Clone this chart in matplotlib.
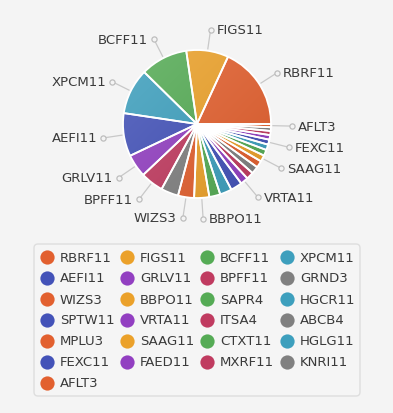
import numpy as np
import matplotlib.pyplot as plt
from matplotlib.colors import LinearSegmentedColormap, to_rgb
from matplotlib.patches import FancyBboxPatch

# share of each fund in the portfolio (%)
tickers = ["RBRF11", "FIGS11", "BCFF11", "XPCM11", "AEFI11", "GRLV11", "BPFF11", "GRND3",
           "WIZS3", "BBPO11", "SAPR4", "HGCR11", "SPTW11", "VRTA11", "ITSA4", "ABCB4",
           "MPLU3", "SAAG11", "CTXT11", "HGLG11", "FEXC11", "FAED11", "MXRF11", "KNRI11",
           "AFLT3"]
shares = [18.1, 9.2, 10.3, 10.0, 9.4, 5.0, 5.0, 3.8,
          3.5, 3.3, 2.4, 2.6, 2.5, 1.7, 1.6, 1.6,
          1.5, 1.4, 1.3, 1.2, 1.1, 1.0, 0.9, 0.8,
          0.7]
# labels the chart actually prints next to the pie
shown = ["RBRF11", "FIGS11", "BCFF11", "XPCM11", "AEFI11", "GRLV11", "BPFF11",
         "WIZS3", "BBPO11", "VRTA11", "SAAG11", "FEXC11", "AFLT3"]

palette = ["#e2602f", "#eba12a", "#55ab55", "#3d9fbd", "#4352b8", "#923fc1", "#c03b60", "#808080"]
colors = [palette[i % len(palette)] for i in range(len(tickers))]

bg = "#f4f4f4"
W, H = 393, 414
fig = plt.figure(figsize=(W / 100, H / 100), dpi=100, facecolor=bg)
ax = fig.add_axes([0, 0, 1, 1])
ax.set_facecolor(bg)

cx, cy, R = 197, H - 125, 74
wedges, _ = ax.pie(shares, center=(cx, cy), radius=R, startangle=0, counterclock=True,
                   colors=colors, wedgeprops=dict(edgecolor="white", linewidth=1.3))

# soft gradient, lighter towards the upper left
gx, gy = np.meshgrid(np.linspace(0, 1, 200), np.linspace(0, 1, 200))
grad = (gx + (1 - gy)) / 2
for w, c in zip(wedges, colors):
    base = np.array(to_rgb(c))
    light = base + (1 - base) * 0.15
    dark = base * 0.93
    cmap = LinearSegmentedColormap.from_list("g", [light, dark])
    im = ax.imshow(grad, extent=[cx - R, cx + R, cy - R, cy + R], origin="lower",
                   cmap=cmap, interpolation="bilinear", zorder=0.5)
    im.set_clip_path(w)
    w.set_facecolor("none")

# leader lines and labels
total = sum(shares)
cum = 0
for name, v in zip(tickers, shares):
    mid = np.deg2rad(360 * (cum + v / 2) / total)
    cum += v
    if name not in shown:
        continue
    ca, sa = np.cos(mid), np.sin(mid)
    x0, y0 = cx + (R + 2) * ca, cy + (R + 2) * sa
    x1, y1 = cx + 95 * ca, cy + 95 * sa
    ax.plot([x0, x1 - 2.5 * ca], [y0, y1 - 2.5 * sa], color="#c8c8c8", lw=0.9, zorder=2)
    ax.scatter([x1], [y1], s=14, facecolor=bg, edgecolor="#bdbdbd", linewidth=0.9, zorder=3)
    if ca >= 0:
        ax.text(x1 + 6, y1, name, ha="left", va="center", fontsize=9.5, color="#3a3a3a")
    else:
        ax.text(x1 - 6, y1, name, ha="right", va="center", fontsize=9.5, color="#3a3a3a")

# legend box
box = FancyBboxPatch((34, H - 397), 326, 152, boxstyle="round,pad=0,rounding_size=4",
                     facecolor="#f5f5f5", edgecolor="#dedede", lw=1, zorder=1)
ax.add_patch(box)
for i, (name, c) in enumerate(zip(tickers, colors)):
    row, col = divmod(i, 4)
    x = 47 + 80 * col
    y = H - (258 + 21 * row)
    ax.scatter([x], [y], s=105, color=c, zorder=3, linewidth=0)
    ax.text(x + 13, y, name, ha="left", va="center", fontsize=9.5, color="#3a3a3a", zorder=3)

ax.set_xlim(0, W)
ax.set_ylim(0, H)
ax.set_aspect("equal")
ax.axis("off")

plt.savefig("out.png", dpi=100, facecolor=bg)
